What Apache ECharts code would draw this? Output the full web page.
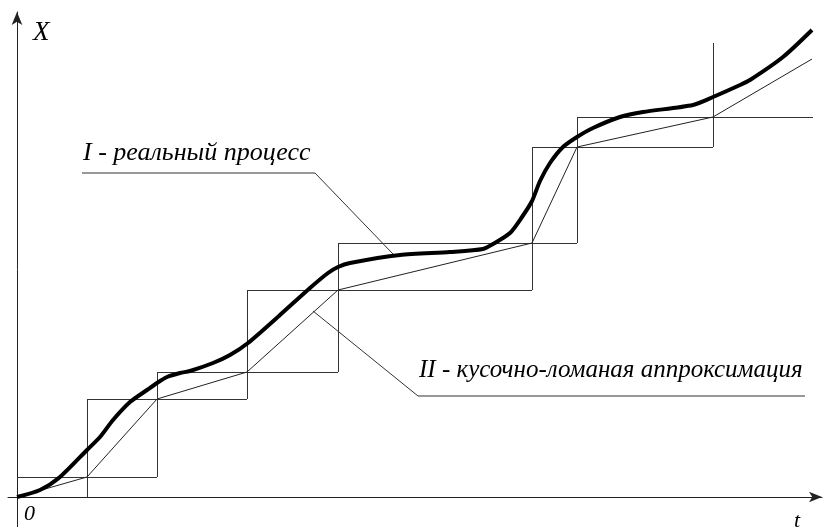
<!DOCTYPE html>
<html>
<head>
<meta charset="utf-8">
<script src="https://cdn.jsdelivr.net/npm/echarts@6/dist/echarts.min.js"></script>
<style>
html,body{margin:0;padding:0;background:#fff;}
#chart{width:826px;height:527px;}
</style>
</head>
<body>
<div id="chart"></div>
<script>
// Real process (curve I): [t, X]
var realProcess = [[0,0],[2.3,0.7],[4.3,2.0],[7.0,4.7],[8.3,6.0],[9.6,7.7],[11.3,9.5],[13.0,10.7],[14.0,11.4],[15.0,12.0],[16.3,12.4],[17.3,12.6],[19.6,13.4],[21.3,14.2],[23.1,15.4],[26.3,18.2],[29.3,20.9],[31.1,22.4],[32.1,23.0],[33.3,23.4],[38.3,24.2],[43.3,24.5],[46.6,24.8],[47.6,25.3],[49.3,26.4],[50.5,28.0],[51.5,29.6],[52.3,31.6],[53.3,33.4],[54.6,35.0],[56.0,36.0],[57.6,36.9],[60.3,38.0],[62.6,38.5],[67.6,39.2],[69.6,40.0],[72.3,41.2],[73.3,41.7],[76.6,44.0],[79.5,46.7]];

// Piecewise-linear approximation (II) vertices
var approxT = [0, 7.0, 14.0, 23.0, 32.1, 51.5, 56.0, 69.6, 79.5];
var approxX = [0, 2.0, 9.8, 12.5, 20.7, 25.4, 35.0, 38.0, 43.8];

// Staircase: horizontal segments
var hLevel = [2.0, 9.8, 12.5, 20.7, 25.4, 35.0, 38.0];
var hLeft  = [0, 7.0, 14.0, 23.0, 32.1, 51.5, 56.0];
var hRight = [14.0, 23.0, 32.1, 51.5, 56.0, 69.6, 79.6];
// Staircase: vertical segments
var vAt     = [7.0, 14.0, 23.0, 32.1, 51.5, 56.0, 69.6];
var vBottom = [0, 2.0, 9.8, 12.5, 20.7, 25.4, 35.0];
var vTop    = [9.8, 12.5, 20.7, 25.4, 35.0, 38.0, 45.4];

// Leader lines
var leaderI  = [[6.5, 32.4], [29.8, 32.4], [37.6, 24.3]];
var leaderII = [[29.6, 18.6], [40.1, 10.1], [78.8, 10.1]];

var labelI = 'I - реальный процесс';
var labelII = 'II - кусочно-ломаная аппроксимация';
var axisYName = 'X';
var axisXName = 't';
var originLabel = '0';

var approx = approxT.map(function(t, i){ return [t, approxX[i]]; });
var stairs = [];
hLevel.forEach(function(y, i){ stairs.push({coords: [[hLeft[i], y], [hRight[i], y]]}); });
vAt.forEach(function(x, i){ stairs.push({coords: [[x, vBottom[i]], [x, vTop[i]]]}); });

var chart = echarts.init(document.getElementById('chart'), null, {renderer: 'canvas'});
var font = '"Liberation Serif", "Times New Roman", serif';
var axisCommon = {
  type: 'value',
  splitLine: {show: false},
  axisTick: {show: false},
  axisLabel: {show: false},
  axisLine: {onZero: true, symbol: ['none', 'arrow'], symbolSize: [8, 13], lineStyle: {color: '#222', width: 1}}
};
chart.setOption({
  animation: false,
  backgroundColor: '#fff',
  grid: {left: 8, right: 4, top: 12, bottom: 0},
  xAxis: Object.assign({}, axisCommon, {min: -0.9, max: 80.5}),
  yAxis: Object.assign({}, axisCommon, {min: -3, max: 48.5}),
  series: [
    {type: 'lines', coordinateSystem: 'cartesian2d', polyline: false, data: stairs,
     lineStyle: {color: '#333', width: 1, opacity: 1}, silent: true},
    {type: 'lines', coordinateSystem: 'cartesian2d', polyline: true,
     data: [{coords: leaderI}, {coords: leaderII}],
     lineStyle: {color: '#333', width: 1, opacity: 1}, silent: true},
    {type: 'line', data: approx, symbol: 'none', lineStyle: {color: '#222', width: 1}, silent: true},
    {type: 'line', data: realProcess, smooth: 0.25, symbol: 'none', lineStyle: {color: '#000', width: 4}, silent: true}
  ],
  graphic: [
    {type: 'text', left: 83, top: 140, style: {text: labelI, font: 'italic 26px ' + font, fill: '#000'}},
    {type: 'text', left: 419, top: 358, style: {text: labelII, font: 'italic 25px ' + font, fill: '#000'}},
    {type: 'text', left: 33, top: 19, style: {text: axisYName, font: 'italic 27px ' + font, fill: '#000'}},
    {type: 'text', left: 24, top: 503, style: {text: originLabel, font: 'italic 22px ' + font, fill: '#000'}},
    {type: 'text', left: 794, top: 510, style: {text: axisXName, font: 'italic 22px ' + font, fill: '#000'}}
  ]
});
</script>
</body>
</html>
